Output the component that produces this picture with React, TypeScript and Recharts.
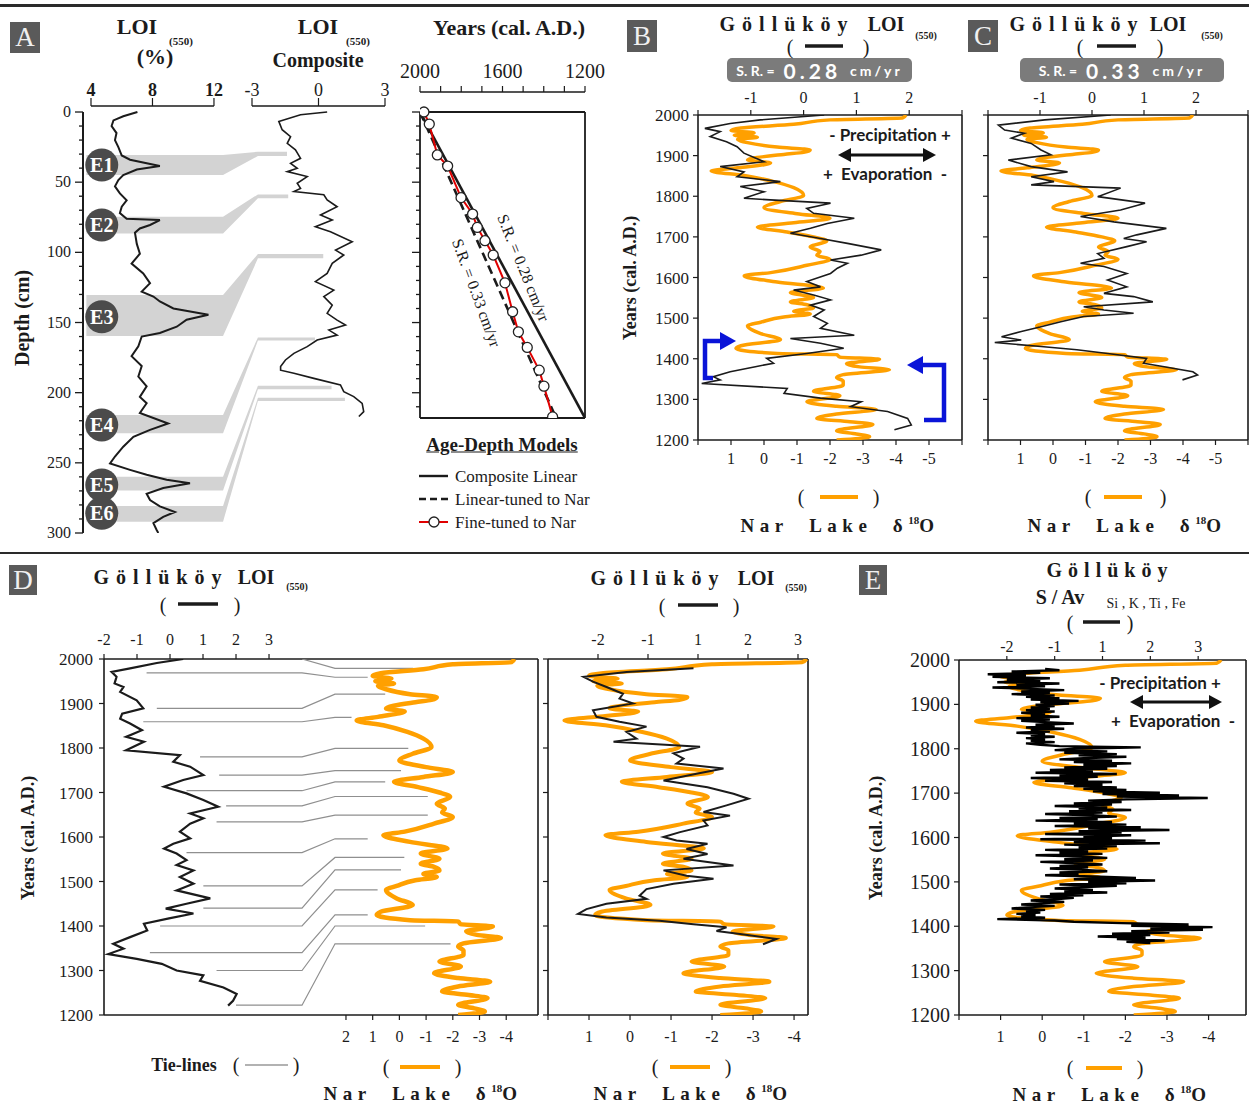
import React from "react";
import { ScatterChart, Scatter, XAxis, YAxis, ReferenceLine } from "recharts";

const SERIF = '"Liberation Serif", "Times New Roman", serif';
const SANS = 'Lato, "Open Sans", Arial, sans-serif';
const INK = "#1b1b1b";
const ORANGE = "#ffa000";
const BAND = "#d3d3d3";
const TIE = "#8f8f8f";
const BLUE = "#0a14d8";

// ---------- data ----------
// Nar Lake d18O (per mil), used in B, C, D, E
const narYears = [2000, 1993, 1988, 1977, 1968, 1962, 1956, 1950, 1945, 1940, 1932, 1921, 1914, 1908, 1903, 1889, 1882, 1870, 1862, 1851, 1836, 1821, 1802, 1787, 1772, 1757, 1746, 1735, 1724, 1712, 1700, 1690, 1675, 1664, 1655, 1645, 1630, 1612, 1604, 1589, 1574, 1563, 1551, 1540, 1533, 1525, 1517, 1510, 1503, 1490, 1481, 1462, 1447, 1432, 1425, 1413, 1410, 1404, 1399, 1388, 1380, 1373, 1361, 1354, 1345, 1335, 1320, 1309, 1294, 1283, 1275, 1264, 1253, 1245, 1238, 1223, 1215, 1208, 1200];
const narValues = [-4.3, -4.2, -2.0, -0.9, 0.7, 1.0, 0.3, 0.9, 0.2, 0.8, 0.5, -0.4, -1.4, -1.2, -0.6, 0.5, -0.2, 0.8, 1.6, 0.6, -0.3, -0.9, -1.2, -0.5, 0.0, -1.0, -2.0, -0.9, 0.2, -0.7, -1.5, -1.9, -1.4, -1.7, -1.6, -2.0, -1.3, -0.2, 0.6, -0.4, -1.8, -0.8, -1.5, -0.8, -1.3, -1.5, -0.9, -1.4, -0.6, 0.1, 0.5, 0.1, -0.5, 0.7, 0.85, -0.4, -2.2, -2.3, -3.5, -2.5, -2.9, -3.8, -2.4, -2.2, -2.4, -2.4, -1.5, -2.3, -1.3, -2.2, -3.4, -2.2, -1.6, -2.6, -3.3, -2.2, -2.8, -3.2, -2.2];

// A: LOI (%) against depth
const loiDepths = [0, 3, 6, 10, 15, 20, 25, 31, 34, 38.5, 41, 45, 48.5, 53, 58, 63, 67.5, 72, 76, 77, 80.5, 83, 86, 94, 101, 108, 115, 122, 128, 131.5, 135, 140, 144.5, 148, 153, 157.5, 160, 167, 174, 181, 188.5, 195.5, 203, 207.5, 214.5, 222, 226.5, 231.5, 238.5, 245.5, 250.5, 255, 258.5, 262, 264.5, 268, 272, 276.5, 281, 285, 288.5, 293, 298, 300];
const loiPct = [7.02, 6.1, 5.46, 5.34, 5.66, 5.56, 5.78, 6.0, 6.54, 8.48, 6.98, 6.1, 5.78, 5.56, 5.88, 6.32, 6.0, 5.88, 6.32, 8.48, 7.84, 7.18, 6.86, 6.98, 7.18, 6.64, 7.4, 7.84, 7.3, 8.06, 8.48, 9.36, 11.64, 10.22, 9.58, 8.48, 7.3, 7.08, 6.64, 7.3, 7.08, 7.62, 7.18, 7.62, 7.18, 9.02, 7.84, 6.76, 6.1, 5.56, 5.24, 6.54, 7.62, 8.92, 10.44, 8.7, 7.62, 7.84, 8.48, 9.46, 8.7, 8.06, 8.28, 8.38];

// A: LOI composite against depth
const compDepths = [0, 2, 6.7, 12.6, 17.6, 22.3, 27, 33, 36.6, 40.1, 42.5, 46, 50.8, 54.4, 56.7, 59, 62.7, 67.5, 73.4, 77, 81.7, 85.3, 92.4, 98.4, 101.9, 107.8, 115, 120.9, 126.9, 131.6, 137.6, 143.5, 148.3, 151.8, 155.4, 159, 162.5, 167.2, 172, 176.7, 181.4, 184, 186.2, 189.8, 194.5, 199.3, 202.8, 207.6, 213.5, 217];
const compValues = [0.39, -0.81, -1.79, -1.64, -1.26, -1.41, -1.04, -0.81, -1.26, -0.96, -1.41, -0.51, -0.96, -0.81, -1.11, 0.24, 0.39, 0.84, 0.09, 0.62, -0.14, 0.54, 1.52, 0.77, 1.14, 0.62, 0.39, -0.14, 0.69, 0.24, 0.62, 0.39, 0.84, 1.22, 0.47, 0.84, -0.06, -0.51, -1.11, -1.49, -1.71, -1.71, -1.11, -0.21, 0.99, 1.14, 1.59, 1.97, 2.04, 1.82];

// A: event bands (depths in cm, right end on the LOI % axis)
const eventNames = ["E1", "E2", "E3", "E4", "E5", "E6"];
const eventDepths = [37.8, 80.5, 145.9, 223, 265.8, 286];
const bandLeftTop = [30.6, 74.6, 130.4, 215.9, 259.9, 280.8];
const bandLeftBottom = [44.9, 86.5, 159.6, 229, 269.8, 291.9];
const bandRightTop = [28.3, 58.7, 101.2, 160.6, 195, 203.6];
const bandRightBottom = [31.4, 61.5, 104.3, 162.9, 197.6, 205.9];
const bandRightEnd = [16.75, 16.83, 19.11, 18.57, 19.65, 20.52];

// A: age-depth models
const linearYears = [2000, 1200];
const linearDepths = [0, 218];
const tunedYears = [2000, 1340];
const tunedDepths = [0, 218];
const fineYears = [1981, 1955, 1916, 1866, 1801, 1745, 1722, 1685, 1645, 1588, 1551, 1523, 1480, 1422, 1399, 1357];
const fineDepths = [0, 8.6, 30.6, 38.5, 61, 72.7, 82.2, 91.7, 101.9, 121.7, 142.3, 156.6, 167.7, 183.9, 195.3, 217.2];

// B: Gollukoy LOI, S.R. 0.28 cm/yr
const bYears = [2000, 1988, 1979, 1967, 1959, 1947, 1934, 1922, 1906, 1885, 1873, 1860, 1848, 1836, 1824, 1811, 1795, 1791, 1783, 1770, 1758, 1746, 1733, 1721, 1709, 1696, 1684, 1668, 1655, 1643, 1635, 1623, 1610, 1590, 1577, 1569, 1557, 1545, 1532, 1520, 1504, 1487, 1475, 1458, 1450, 1438, 1426, 1413, 1401, 1389, 1381, 1368, 1356, 1348, 1339, 1327, 1315, 1303, 1294, 1282, 1270, 1253, 1237, 1225];
const bValues = [0.39, -0.82, -1.39, -1.87, -1.58, -1.77, -1.46, -1.26, -1.13, -0.75, -1.58, -1.13, -1.26, -0.44, -1.2, -0.75, -1.13, -0.63, 0.51, 0.06, 0.19, 0.96, 0.45, 0.13, -0.25, 0.32, 0.83, 1.47, 1.09, 0.51, 0.83, 0.64, 0.51, 0.06, 0.32, -0.19, 0.19, 0.51, 0.13, 0.39, 0.19, 0.45, 0.32, 0.96, -0.25, 0.32, 0.76, 0.06, -0.7, -0.57, -0.89, -1.39, -1.71, -1.58, -1.93, -0.31, -0.37, 0.32, 1.09, 0.89, 1.59, 1.97, 2.04, 1.72];

// C: Gollukoy LOI, S.R. 0.33 cm/yr
const cYears = [2000, 1988, 1975, 1963, 1955, 1943, 1930, 1914, 1902, 1889, 1873, 1860, 1848, 1836, 1828, 1820, 1799, 1783, 1766, 1750, 1737, 1721, 1705, 1696, 1688, 1676, 1659, 1647, 1635, 1627, 1610, 1594, 1577, 1561, 1553, 1540, 1528, 1520, 1512, 1504, 1491, 1479, 1467, 1454, 1446, 1440, 1430, 1422, 1413, 1401, 1389, 1381, 1368, 1360, 1348];
const cValues = [0.36, -0.91, -1.8, -1.68, -1.3, -1.55, -1.17, -0.98, -0.79, -1.61, -1.17, -0.47, -1.17, -0.73, -1.17, 0.55, 0.11, 1.02, 0.55, -0.22, 0.42, 1.43, 0.86, 0.61, 1.05, 0.67, 0.11, 0.23, -0.22, 0.23, 0.67, 0.3, 0.67, 0.23, 0.8, 1.17, -0.16, 0.23, 0.8, -0.16, -0.6, -0.98, -1.36, -1.74, -1.36, -1.87, -0.98, -0.29, 0.3, 1.05, 0.99, 1.36, 1.94, 2.03, 1.74];

// D (left): LOI before tuning
const dYears = [2000, 1991, 1979, 1971, 1960, 1945, 1937, 1926, 1907, 1889, 1877, 1866, 1855, 1840, 1825, 1814, 1795, 1784, 1769, 1758, 1739, 1728, 1713, 1698, 1683, 1668, 1653, 1642, 1630, 1612, 1597, 1585, 1574, 1563, 1548, 1537, 1525, 1510, 1495, 1480, 1462, 1450, 1439, 1428, 1417, 1405, 1390, 1375, 1360, 1349, 1337, 1326, 1315, 1300, 1289, 1277, 1262, 1247, 1232, 1221];
const dValues = [0.4, -0.4, -1.21, -1.77, -1.62, -1.68, -1.41, -1.51, -1.01, -0.81, -1.45, -1.51, -1.21, -0.85, -1.33, -0.79, -1.33, 0.3, 0.1, 0.61, 1.01, 0.4, -0.18, 0.5, 1.01, 1.46, 0.61, 1.01, 0.61, 0.3, 0.61, 0.1, -0.18, 0.2, 0.5, 0.2, 0.71, 0.3, 0.71, 0.2, 1.22, 0.5, -0.13, 0.71, -0.03, -0.79, -0.69, -1.21, -1.72, -1.41, -1.87, -1.01, -0.25, 0.2, 1.01, 0.91, 1.62, 2.02, 1.91, 1.76];

// D (left): tie-lines, LOI year/position -> Nar year/position (LOI axis units)
const tieLoiYears = [2000, 1969, 1889, 1859, 1780, 1739, 1704, 1670, 1634, 1565, 1490, 1440, 1400, 1340, 1300, 1222];
const tieLoiX = [4, -0.71, -0.4, -0.81, 0.91, 1.49, 0.5, 1.7, 1.41, 0.5, 1.01, 1.01, -0.3, -0.61, 1.41, 2.0];
const tieNarYears = [1979, 1959, 1921, 1869, 1799, 1749, 1724, 1691, 1649, 1596, 1554, 1526, 1481, 1425, 1400, 1360];
const tieNarX = [7.37, 5.99, 6.52, 5.5, 7.22, 7.0, 6.52, 7.81, 7.81, 5.99, 7.1, 7.0, 6.29, 5.99, 7.73, 8.5];

// D (right): LOI fine-tuned to Nar
const drYears = [1979, 1971, 1960, 1949, 1937, 1922, 1911, 1900, 1885, 1870, 1859, 1848, 1836, 1821, 1814, 1803, 1788, 1776, 1765, 1754, 1742, 1727, 1712, 1697, 1686, 1671, 1656, 1648, 1637, 1626, 1611, 1600, 1592, 1585, 1573, 1562, 1551, 1536, 1525, 1513, 1506, 1495, 1483, 1468, 1461, 1450, 1438, 1427, 1419, 1412, 1404, 1397, 1389, 1382, 1371, 1359];
const drValues = [-0.09, -1.43, -2.29, -2.1, -1.83, -1.5, -1.57, -1.3, -2.1, -2.03, -1.57, -1.03, -1.43, -1.23, -1.69, 0.04, -0.49, -0.29, -0.43, 0.51, -0.03, -0.69, 0.19, 0.71, 1.01, 0.57, 0.11, 0.64, 0.11, 0.19, -0.36, -0.69, -0.43, 0.19, -0.23, 0.19, -0.29, 0.71, -0.69, -0.23, 0.31, -0.49, -1.03, -1.17, -1.03, -1.83, -2.23, -2.4, -1.83, -0.77, -0.09, 0.57, 0.37, 0.84, 1.57, 1.3];

// E: S/Av (Si, K, Ti, Fe)
const eYears = [
  1980, 1977, 1974, 1971, 1968, 1965, 1962, 1959, 1956, 1953,
  1950, 1947, 1944, 1941, 1938, 1935, 1932, 1929, 1926, 1923,
  1920, 1917, 1914, 1911, 1908, 1905, 1902, 1899, 1896, 1893,
  1890, 1887, 1884, 1881, 1878, 1875, 1872, 1869, 1866, 1863,
  1860, 1857, 1854, 1851, 1848, 1845, 1842, 1839, 1836, 1833,
  1830, 1827, 1824, 1821, 1818, 1815, 1812, 1809, 1806, 1803,
  1800, 1797, 1794, 1791, 1788, 1785, 1782, 1779, 1776, 1773,
  1770, 1767, 1764, 1761, 1758, 1755, 1752, 1749, 1746, 1743,
  1740, 1737, 1734, 1731, 1728, 1725, 1722, 1719, 1716, 1713,
  1710, 1707, 1704, 1701, 1698, 1695, 1692, 1689, 1686, 1683,
  1680, 1677, 1674, 1671, 1668, 1665, 1662, 1659, 1656, 1653,
  1650, 1647, 1644, 1641, 1638, 1635, 1632, 1629, 1626, 1623,
  1620, 1617, 1614, 1611, 1608, 1605, 1602, 1599, 1596, 1593,
  1590, 1587, 1584, 1581, 1578, 1575, 1572, 1569, 1566, 1563,
  1560, 1557, 1554, 1551, 1548, 1545, 1542, 1539, 1536, 1533,
  1530, 1527, 1524, 1521, 1518, 1515, 1512, 1509, 1506, 1503,
  1500, 1497, 1494, 1491, 1488, 1485, 1482, 1479, 1476, 1473,
  1470, 1467, 1464, 1461, 1458, 1455, 1452, 1449, 1446, 1443,
  1440, 1437, 1434, 1431, 1428, 1425, 1422, 1419, 1416, 1413,
  1410, 1407, 1404, 1401, 1398, 1395, 1392, 1389, 1386, 1383,
  1380, 1377, 1374, 1371, 1368, 1365, 1362,
];
const eValues = [
  -1.2, -0.9, -1.9, -1.3, -2.4, -1.6, -2.3, -1.1, -2.0, -1.3,
  -2.2, -0.9, -1.8, -1.2, -2.3, -1.5, -0.8, -1.7, -1.1, -1.9,
  -1.0, -1.6, -0.9, -1.5, -0.5, -1.3, -0.7, -1.4, -1.0, -1.5,
  -1.1, -1.6, -1.0, -1.7, -1.2, -1.5, -0.9, -1.8, -1.1, -1.7,
  -1.2, -0.6, -1.4, -1.0, -1.6, -0.8, -1.5, -1.1, -1.8, -1.2,
  -1.5, -1.0, -1.6, -1.2, -1.5, -1.0, -1.6, -1.3, -0.9, 0.8,
  -0.6, -1.0, 0.1, -0.8, 0.3, -0.5, 0.5, -0.3, -0.9, 0.2,
  -0.6, 0.6, -0.4, 0.3, -0.8, 0.1, -1.1, -0.2, -1.4, 0.3,
  -0.9, -0.1, -1.5, -0.3, -1.2, 0.2, -0.8, 0.0, -0.6, 0.3,
  -0.4, 0.5, -0.2, 1.2, 0.0, 1.6, 0.3, 2.2, 0.5, -0.3,
  0.4, -0.6, 0.2, -1.0, 0.1, -0.5, 0.6, -0.7, 0.0, -1.2,
  -0.2, 0.3, -0.9, -0.1, -1.4, 0.2, -0.6, 0.5, -1.0, 0.8,
  -0.3, 1.4, -0.5, 0.4, -1.2, 0.6, -0.4, 0.2, -1.3, 0.9,
  -0.6, 1.2, -0.8, 0.3, -0.5, 0.1, -1.2, -0.3, -0.9, 0.0,
  -1.4, -0.4, 0.1, -0.8, -0.2, -1.3, -0.5, 0.0, -0.9, -0.3,
  -1.1, -0.4, 0.1, -0.9, -0.5, -1.2, -0.2, 0.7, -0.6, 1.1,
  -0.3, 0.5, -0.9, 0.3, -0.5, -1.0, -0.2, -0.8, 0.1, -1.1,
  -0.4, -1.3, -0.6, -1.0, -1.5, -0.8, -1.2, -1.7, -1.0, -1.5,
  -1.9, -1.2, -1.6, -1.3, -1.8, -1.4, -1.7, -1.2, -2.2, -1.0,
  -0.6, 0.4, 1.8, 0.6, 2.3, 1.0, 2.1, 0.6, 1.4, 0.2,
  1.0, -0.1, 0.9, 0.3, 1.3, 0.5, 1.0,
];

// ticks
const yearTicks = [1200, 1300, 1400, 1500, 1600, 1700, 1800, 1900, 2000];
const ageTicks = [2000, 1900, 1800, 1700, 1600, 1500, 1400, 1300, 1200];
const ageLabels = [2000, 1600, 1200];
const depthTicks = [0, 10, 20, 30, 40, 50, 60, 70, 80, 90, 100, 110, 120, 130, 140, 150, 160, 170, 180, 190, 200, 210, 220, 230, 240, 250, 260, 270, 280, 290, 300];
const ageDepthTicks = [0, 10, 20, 30, 40, 50, 60, 70, 80, 90, 100, 110, 120, 130, 140, 150, 160, 170, 180, 190, 200, 210];
const narTicks = [2, 1, 0, -1, -2, -3, -4, -5, -6];
const shiftedTicks = [-2, -1, 0, 1, 2];
const shiftedLabels = ["-2", "-1", "1", "2", "3"];

// ---------- axis domains ----------
const A_DEPTH_MIN = -4.28;
const PCT_MIN = 3.48;
const PCT_MAX = 20.85;
const AGE_DEPTH_MIN = -14.25;
const BAND_X0 = 3.7;
const BAND_X1 = 12.59;
const BAND_X2 = 14.86;
const EVENT_X = 4.7;
const TIE_BEND_A = 4;
const TIE_BEND_B = 5;

const zip = (ys, vs, key = "year") =>
  ys.map((y, i) => ({ [key]: y, v: vs[i] })).filter((d) => d.v !== undefined);

const narData = zip(narYears, narValues);
const loiData = zip(loiDepths, loiPct, "depth");
const compData = zip(compDepths, compValues, "depth");
const bData = zip(bYears, bValues);
const cData = zip(cYears, cValues);
const dData = zip(dYears, dValues);
const drData = zip(drYears, drValues);
const eData = zip(eYears, eValues);
const eventData = eventNames.map((n, i) => ({ depth: eventDepths[i], v: EVENT_X, label: n }));
const linearData = linearYears.map((y, i) => ({ year: y, depth: linearDepths[i] }));
const tunedData = tunedYears.map((y, i) => ({ year: y, depth: tunedDepths[i] }));
const fineData = fineYears.map((y, i) => ({ year: y, depth: fineDepths[i] }));
const bandPolys = bandLeftTop.map((lt, i) => [
  { depth: lt, v: BAND_X0 },
  { depth: lt, v: BAND_X1 },
  { depth: bandRightTop[i], v: BAND_X2 },
  { depth: bandRightTop[i], v: bandRightEnd[i] },
  { depth: bandRightBottom[i], v: bandRightEnd[i] },
  { depth: bandRightBottom[i], v: BAND_X2 },
  { depth: bandLeftBottom[i], v: BAND_X1 },
  { depth: bandLeftBottom[i], v: BAND_X0 },
]);
const tieLines = tieLoiYears.map((y, i) => [
  { year: y, v: tieLoiX[i] },
  { year: y, v: TIE_BEND_A },
  { year: tieNarYears[i], v: TIE_BEND_B },
  { year: tieNarYears[i], v: tieNarX[i] },
]);

// ---------- helpers ----------
const axisLine = { stroke: INK, strokeWidth: 1.6 };
const tickLine = { stroke: INK, strokeWidth: 1.2 };
const tk = (s = 16, w = 400) => ({ fontSize: s, fontFamily: SERIF, fill: INK, fontWeight: w });
const noDot = () => <g />;
const hideEnds = (a, b) => (v) => (v === a || v === b ? "" : String(v));
const shiftedFmt = (v) => shiftedLabels[shiftedTicks.indexOf(v)] ?? "";

function depthTick(withLabel) {
  return (p) => {
    const v = p.payload.value;
    const major = v % 50 === 0;
    return (
      <g>
        <line x1={p.x} x2={p.x - (major ? 8 : 4)} y1={p.y} y2={p.y} stroke={INK} strokeWidth={1.3} />
        {withLabel && major ? (
          <text x={p.x - 12} y={p.y + 5} textAnchor="end" fontSize={16} fontFamily={SERIF} fill={INK}>
            {v}
          </text>
        ) : null}
      </g>
    );
  };
}

const EventDot = (p) => (
  <g>
    <circle cx={p.cx} cy={p.cy} r={16.5} fill="#4b4b4b" />
    <text x={p.cx} y={p.cy + 7} textAnchor="middle" fill="#fff" fontFamily={SERIF} fontWeight={700} fontSize={20}>
      {p.payload.label}
    </text>
  </g>
);

const FineDot = (p) => <circle cx={p.cx} cy={p.cy} r={5} fill="#fff" stroke="#222" strokeWidth={1.3} />;

// places a chart so that its plot area lands on (px, py, pw, ph)
function Plot({ px, py, pw, ph, l = 0, t = 0, b = 0, extraR = 0, pad = 8, children }) {
  return (
    <div style={{ position: "absolute", left: px - l - pad, top: py - t - pad }}>
      <ScatterChart
        width={pw + l + extraR + 2 * pad}
        height={ph + t + b + 2 * pad}
        margin={{ top: pad, right: pad + extraR, bottom: pad, left: pad }}
      >
        {children}
      </ScatterChart>
    </div>
  );
}

const line = (data, xId, yId, stroke, width, key, joint = "linear") => (
  <Scatter
    key={key}
    data={data}
    xAxisId={xId}
    yAxisId={yId}
    fill={stroke}
    line={{ stroke, strokeWidth: width }}
    lineJointType={joint}
    shape={noDot}
    isAnimationActive={false}
  />
);

// ---------- panels ----------
function PanelA() {
  return (
    <>
      <Plot px={83} py={106} pw={267} ph={427} l={45} t={30}>
        <XAxis xAxisId="pct" orientation="top" type="number" dataKey="v" domain={[PCT_MIN, PCT_MAX]} ticks={[4, 8, 12]} height={30} tickSize={8} tickMargin={2} axisLine={false} tickLine={tickLine} tick={tk(18, 700)} interval={0} allowDataOverflow />
        <YAxis yAxisId="d" type="number" dataKey="depth" domain={[A_DEPTH_MIN, 300]} reversed ticks={depthTicks} width={45} tickSize={0} tickMargin={0} axisLine={false} tickLine={false} tick={depthTick(true)} interval={0} allowDataOverflow />
        <ReferenceLine xAxisId="pct" yAxisId="d" segment={[{ x: 4, y: A_DEPTH_MIN }, { x: 12, y: A_DEPTH_MIN }]} stroke={INK} strokeWidth={1.5} />
        <ReferenceLine xAxisId="pct" yAxisId="d" segment={[{ x: PCT_MIN, y: 0 }, { x: PCT_MIN, y: 300 }]} stroke={INK} strokeWidth={2} />
        {bandPolys.map((poly, i) => (
          <Scatter key={"band" + i} data={poly} xAxisId="pct" yAxisId="d" fill={BAND} line={{ stroke: "none", fill: BAND }} shape={noDot} isAnimationActive={false} />
        ))}
        {line(loiData, "pct", "d", INK, 2, "loi")}
        <Scatter data={eventData} xAxisId="pct" yAxisId="d" shape={EventDot} isAnimationActive={false} />
      </Plot>

      <Plot px={252} py={106} pw={133} ph={427} t={30}>
        <XAxis xAxisId="c" orientation="top" type="number" dataKey="v" domain={[-3, 3]} ticks={[-3, 0, 3]} height={30} tickSize={8} tickMargin={2} axisLine={false} tickLine={tickLine} tick={tk(18)} interval={0} allowDataOverflow />
        <YAxis yAxisId="d" type="number" dataKey="depth" domain={[A_DEPTH_MIN, 300]} reversed hide allowDataOverflow />
        <ReferenceLine xAxisId="c" yAxisId="d" segment={[{ x: -3, y: A_DEPTH_MIN }, { x: 3, y: A_DEPTH_MIN }]} stroke={INK} strokeWidth={1.5} />
        {line(compData, "c", "d", INK, 1.6, "comp")}
      </Plot>

      <Plot px={420} py={92} pw={165} ph={326} l={12} t={34} extraR={24}>
        <XAxis xAxisId="yr" orientation="top" type="number" dataKey="year" domain={[1200, 2000]} reversed ticks={ageTicks} tickFormatter={(v) => (ageLabels.includes(v) ? String(v) : "")} height={34} tickSize={6} tickMargin={8} axisLine={axisLine} tickLine={tickLine} tick={tk(20)} interval={0} allowDataOverflow />
        <YAxis yAxisId="d" type="number" dataKey="depth" domain={[AGE_DEPTH_MIN, 218]} reversed ticks={ageDepthTicks} width={12} tickSize={0} tickMargin={0} axisLine={false} tickLine={false} tick={depthTick(false)} interval={0} allowDataOverflow />
        <ReferenceLine xAxisId="yr" yAxisId="d" segment={[{ x: 2000, y: 0 }, { x: 2000, y: 218 }]} stroke={INK} strokeWidth={1.8} />
        <ReferenceLine xAxisId="yr" yAxisId="d" segment={[{ x: 1200, y: 0 }, { x: 1200, y: 218 }]} stroke={INK} strokeWidth={1.8} />
        <ReferenceLine xAxisId="yr" yAxisId="d" segment={[{ x: 2000, y: 0 }, { x: 1200, y: 0 }]} stroke={INK} strokeWidth={1.8} />
        <ReferenceLine xAxisId="yr" yAxisId="d" segment={[{ x: 2000, y: 218 }, { x: 1200, y: 218 }]} stroke={INK} strokeWidth={1.8} />
        <Scatter data={linearData} xAxisId="yr" yAxisId="d" line={{ stroke: INK, strokeWidth: 2.6 }} shape={noDot} isAnimationActive={false} />
        <Scatter data={tunedData} xAxisId="yr" yAxisId="d" line={{ stroke: INK, strokeWidth: 2.6, strokeDasharray: "9 5" }} shape={noDot} isAnimationActive={false} />
        <Scatter data={fineData} xAxisId="yr" yAxisId="d" line={{ stroke: "#e00000", strokeWidth: 2 }} shape={FineDot} isAnimationActive={false} />
      </Plot>
    </>
  );
}

function YearPanel({ px, py, pw, ph, l, top, bottom, year, children }) {
  return (
    <Plot px={px} py={py} pw={pw} ph={ph} l={l} t={30} b={32}>
      <XAxis xAxisId="top" orientation="top" type="number" dataKey="v" height={30} axisLine={axisLine} tickLine={tickLine} tick={tk(16)} interval={0} allowDataOverflow {...top} />
      <XAxis xAxisId="nar" orientation="bottom" type="number" dataKey="v" reversed height={32} axisLine={axisLine} tickLine={tickLine} tick={tk(16)} interval={0} allowDataOverflow {...bottom} />
      <YAxis yAxisId="yr" type="number" dataKey="year" domain={[1200, 2000]} ticks={yearTicks} width={l} axisLine={axisLine} tickLine={tickLine} interval={0} allowDataOverflow {...year} />
      <ReferenceLine xAxisId="top" yAxisId="yr" x={top.domain[1]} stroke={INK} strokeWidth={1.6} />
      {children}
    </Plot>
  );
}

function PanelB() {
  return (
    <YearPanel
      px={698} py={115} pw={264} ph={325} l={50}
      top={{ domain: [-2, 3], ticks: [-2, -1, 0, 1, 2, 3], tickFormatter: hideEnds(-2, 3), tickSize: 5, tickMargin: 7 }}
      bottom={{ domain: [-6, 2], ticks: narTicks, tickFormatter: hideEnds(2, -6), tickSize: 5, tickMargin: 8 }}
      year={{ tick: tk(17), tickSize: 5, tickMargin: 4 }}
    >
      {line(narData, "nar", "yr", ORANGE, 3.5, "nar", "monotoneY")}
      {line(bData, "top", "yr", INK, 1.6, "b")}
    </YearPanel>
  );
}

function PanelC() {
  return (
    <YearPanel
      px={988} py={115} pw={260} ph={325} l={8}
      top={{ domain: [-2, 3], ticks: [-2, -1, 0, 1, 2, 3], tickFormatter: hideEnds(-2, 3), tickSize: 5, tickMargin: 7 }}
      bottom={{ domain: [-6, 2], ticks: narTicks, tickFormatter: hideEnds(2, -6), tickSize: 5, tickMargin: 8 }}
      year={{ tick: tk(16), tickFormatter: () => "", tickSize: 5, tickMargin: 2 }}
    >
      {line(narData, "nar", "yr", ORANGE, 3.5, "nar", "monotoneY")}
      {line(cData, "top", "yr", INK, 1.6, "c")}
    </YearPanel>
  );
}

function PanelD() {
  return (
    <>
      <YearPanel
        px={104} py={659} pw={434} ph={356} l={50}
        top={{ domain: [-2, 11.15], ticks: [-2, -1, 0, 1, 2, 3], tickSize: 5, tickMargin: 9 }}
        bottom={{ domain: [-5.19, 11.06], ticks: [2, 1, 0, -1, -2, -3, -4], tickSize: 5, tickMargin: 11 }}
        year={{ tick: tk(17), tickSize: 5, tickMargin: 6 }}
      >
        {tieLines.map((t, i) => line(t, "top", "yr", TIE, 1.2, "tie" + i))}
        {line(narData, "nar", "yr", ORANGE, 4.5, "nar", "monotoneY")}
        {line(dData, "top", "yr", INK, 2.2, "d")}
      </YearPanel>
      <YearPanel
        px={548} py={659} pw={260} ph={356} l={8}
        top={{ domain: [-3, 2.2], ticks: shiftedTicks, tickFormatter: shiftedFmt, tickSize: 5, tickMargin: 9 }}
        bottom={{ domain: [-4.34, 2], ticks: [2, 1, 0, -1, -2, -3, -4], tickFormatter: hideEnds(2, 99), tickSize: 5, tickMargin: 11 }}
        year={{ tick: tk(16), tickFormatter: () => "", tickSize: 5, tickMargin: 2 }}
      >
        {line(narData, "nar", "yr", ORANGE, 4, "nar", "monotoneY")}
        {line(drData, "top", "yr", INK, 2, "dr")}
      </YearPanel>
    </>
  );
}

function PanelE() {
  return (
    <YearPanel
      px={959} py={660} pw={287} ph={355} l={55}
      top={{ domain: [-3, 3], ticks: shiftedTicks, tickFormatter: shiftedFmt, tickSize: 4, tickMargin: 4 }}
      bottom={{ domain: [-4.9, 2], ticks: [2, 1, 0, -1, -2, -3, -4], tickFormatter: hideEnds(2, 99), tickSize: 5, tickMargin: 11 }}
      year={{ tick: tk(20), tickSize: 5, tickMargin: 4 }}
    >
      {line(narData, "nar", "yr", ORANGE, 3.5, "nar", "monotoneY")}
      {line(eData, "top", "yr", "#000", 2.4, "e")}
    </YearPanel>
  );
}

// ---------- text and annotation overlay ----------
const T = ({ x, y, s = 16, b = true, ls = 0, c = INK, f = SERIF, rot = 0, anchor = "middle", u = false, children }) => {
  const tx = anchor === "start" ? "0" : anchor === "end" ? "-100%" : "-50%";
  return (
    <div
      style={{
        position: "absolute", left: x, top: y,
        transform: `translate(${tx}, -50%) rotate(${rot}deg)`,
        fontSize: s, fontWeight: b ? 700 : 400, letterSpacing: ls, color: c, fontFamily: f,
        whiteSpace: "nowrap", lineHeight: 1, textDecoration: u ? "underline" : "none",
      }}
    >
      {children}
    </div>
  );
};

const Letter = ({ x, y, ch, w = 30, h = 31 }) => (
  <div style={{ position: "absolute", left: x, top: y, width: w, height: h, background: "#5a5a5a", color: "#f0f0f0", fontFamily: SERIF, fontSize: 27, display: "flex", alignItems: "center", justifyContent: "center", lineHeight: 1 }}>
    {ch}
  </div>
);

const SRBox = ({ x, w, val }) => (
  <div style={{ position: "absolute", left: x, top: 58, width: w, height: 24, background: "#7b7b7b", borderRadius: 5, color: "#fff", fontFamily: SANS, fontWeight: 700, display: "flex", alignItems: "center", justifyContent: "center", gap: 9, whiteSpace: "nowrap" }}>
    <span style={{ fontSize: 14 }}>S. R. =</span>
    <span style={{ fontSize: 21, letterSpacing: 4 }}>{val}</span>
    <span style={{ fontSize: 14, letterSpacing: 3 }}>cm/yr</span>
  </div>
);

const Nar = ({ x, y }) => (
  <T x={x} y={y} s={19} ls={5.5}>
    Nar&nbsp; Lake&nbsp; δ<sup style={{ fontSize: 11, letterSpacing: 0 }}>18</sup>O
  </T>
);

const Gol = ({ x, y, ls = 7 }) => <T x={x} y={y} s={20} ls={ls}>Göllüköy</T>;

const parens = [
  [790, 866, 47], [1080, 1160, 47], [163, 237, 605], [662, 736, 606], [1070, 1130, 623],
  [801, 876, 497], [1088, 1163, 497], [386, 458, 1067], [655, 728, 1067], [1070, 1140, 1068], [236, 296, 1065],
];
const parenLines = [
  [805, 843, 46, INK, 3.5], [1097, 1136, 46, INK, 3.5], [178, 218, 604, INK, 3.5], [678, 718, 605, INK, 3.5], [1083, 1120, 622, INK, 3.5],
  [820, 858, 497, ORANGE, 4], [1104, 1142, 497, ORANGE, 4], [400, 440, 1067, ORANGE, 4], [670, 710, 1067, ORANGE, 4], [1086, 1122, 1068, ORANGE, 4],
  [245, 288, 1065, "#999", 1.5],
];

const DArrow = ({ x1, x2, y }) => (
  <g fill="#111">
    <line x1={x1 + 10} x2={x2 - 10} y1={y} y2={y} stroke="#111" strokeWidth={3} />
    <polygon points={`${x1},${y} ${x1 + 13},${y - 7} ${x1 + 13},${y + 7}`} />
    <polygon points={`${x2},${y} ${x2 - 13},${y - 7} ${x2 - 13},${y + 7}`} />
  </g>
);

function Overlay() {
  return (
    <svg width={1249} height={1108} style={{ position: "absolute", left: 0, top: 0, pointerEvents: "none" }}>
      <rect x={0} y={4} width={1249} height={3} fill="#2a2a2a" />
      <rect x={0} y={552} width={1249} height={2} fill="#2a2a2a" />
      {parenLines.map(([a, b, y, c, w], i) => (
        <line key={i} x1={a} x2={b} y1={y} y2={y} stroke={c} strokeWidth={w} />
      ))}
      <line x1={419} x2={448} y1={476} y2={476} stroke={INK} strokeWidth={2.4} />
      <line x1={419} x2={448} y1={499} y2={499} stroke={INK} strokeWidth={2.4} strokeDasharray="7 4" />
      <line x1={419} x2={448} y1={522} y2={522} stroke="#e00000" strokeWidth={2} />
      <circle cx={434} cy={522} r={5} fill="#fff" stroke="#222" strokeWidth={1.3} />
      <DArrow x1={838} x2={936} y={155} />
      <DArrow x1={1130} x2={1222} y={702} />
      <g stroke={BLUE} strokeWidth={4.5} fill="none">
        <path d="M 722 341 L 705 341 L 705 378 L 713 378" />
        <path d="M 921 365 L 944 365 L 944 420 L 924 420" />
      </g>
      <g fill={BLUE}>
        <polygon points="720,332 736,341 720,350" />
        <polygon points="923,356 907,365 923,374" />
      </g>
    </svg>
  );
}

function Texts() {
  return (
    <>
      <Letter x={10} y={22} ch="A" />
      <Letter x={627} y={20} ch="B" h={32} />
      <Letter x={968} y={20} ch="C" h={32} />
      <Letter x={9} y={565} ch="D" w={28} h={30} />
      <Letter x={859} y={565} ch="E" w={28} h={30} />

      {/* A */}
      <T x={137} y={27} s={22}>LOI</T>
      <T x={181} y={41} s={11}>(550)</T>
      <T x={155} y={57} s={22}>(%)</T>
      <T x={318} y={27} s={22}>LOI</T>
      <T x={358} y={41} s={11}>(550)</T>
      <T x={318} y={60} s={20}>Composite</T>
      <T x={509} y={28} s={22}>Years (cal. A.D.)</T>
      <T x={22} y={318} s={20} rot={-90}>Depth (cm)</T>
      <T x={523} y={268} s={16} b={false} rot={68}>S.R. = 0.28 cm/yr</T>
      <T x={476} y={293} s={16} b={false} rot={70}>S.R. = 0.33 cm/yr</T>
      <T x={502} y={444} s={19} u>Age-Depth Models</T>
      <T x={455} y={476} s={17} b={false} anchor="start">Composite Linear</T>
      <T x={455} y={499} s={17} b={false} anchor="start">Linear-tuned to Nar</T>
      <T x={455} y={522} s={17} b={false} anchor="start">Fine-tuned to Nar</T>

      {/* B */}
      <Gol x={787} y={24} />
      <T x={886} y={24} s={20}>LOI</T>
      <T x={926} y={36} s={10}>(550)</T>
      <SRBox x={727} w={185} val="0.28" />
      <T x={630} y={278} s={18} rot={-90}>Years (cal. A.D.)</T>
      <T x={890} y={134} s={17} f={SANS}>- Precipitation +</T>
      <T x={885} y={173} s={17} f={SANS}>+&nbsp; Evaporation&nbsp; -</T>
      <Nar x={840} y={525} />

      {/* C */}
      <Gol x={1077} y={24} />
      <T x={1168} y={24} s={20}>LOI</T>
      <T x={1212} y={36} s={10}>(550)</T>
      <SRBox x={1020} w={204} val="0.33" />
      <Nar x={1127} y={525} />

      {/* D */}
      <Gol x={161} y={577} />
      <T x={256} y={577} s={20}>LOI</T>
      <T x={297} y={587} s={10}>(550)</T>
      <T x={28} y={838} s={18} rot={-90}>Years (cal. A.D.)</T>
      <T x={184} y={1065} s={18}>Tie-lines</T>
      <Nar x={423} y={1093} />
      <Gol x={658} y={578} />
      <T x={756} y={578} s={20}>LOI</T>
      <T x={796} y={588} s={10}>(550)</T>
      <Nar x={693} y={1093} />

      {/* E */}
      <Gol x={1110} y={570} ls={6} />
      <T x={1060} y={597} s={20}>S / Av</T>
      <T x={1146} y={604} s={14} b={false}>Si , K , Ti , Fe</T>
      <T x={876} y={838} s={18} rot={-90}>Years (cal. A.D.)</T>
      <T x={1160} y={682} s={17} f={SANS}>- Precipitation +</T>
      <T x={1173} y={720} s={17} f={SANS}>+&nbsp; Evaporation&nbsp; -</T>
      <Nar x={1112} y={1094} />

      {parens.map(([a, b, y], i) => (
        <React.Fragment key={i}>
          <T x={a} y={y} s={20} b={false}>(</T>
          <T x={b} y={y} s={20} b={false}>)</T>
        </React.Fragment>
      ))}
    </>
  );
}

export default function App() {
  return (
    <div style={{ position: "absolute", left: 0, top: 0, width: 1249, height: 1108, overflow: "hidden", background: "#fff", fontFamily: SERIF }}>
      <PanelA />
      <PanelB />
      <PanelC />
      <PanelD />
      <PanelE />
      <Overlay />
      <Texts />
    </div>
  );
}
